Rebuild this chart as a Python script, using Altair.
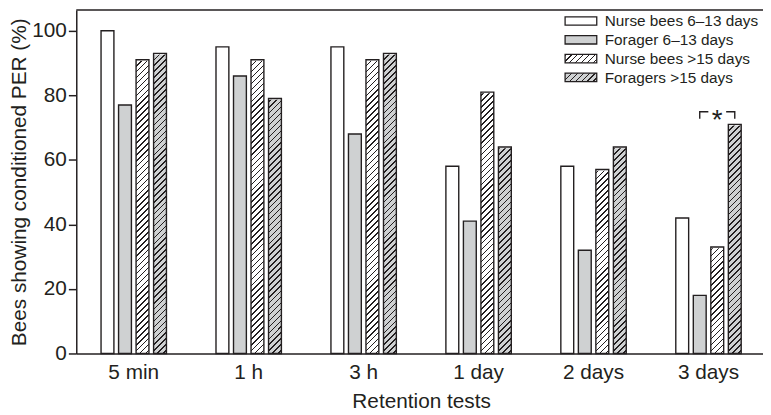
import altair as alt
import pandas as pd

# ---------------- data ----------------
tests = ["5 min", "1 h", "3 h", "1 day", "2 days", "3 days"]
series = ["Nurse bees 6–13 days", "Forager 6–13 days", "Nurse bees >15 days", "Foragers >15 days"]
nurse_young = [100, 95, 95, 58, 58, 42]
forager_young = [77, 86, 68, 41, 32, 18]
nurse_old = [91, 91, 91, 81, 57, 33]
forager_old = [93, 79, 93, 64, 64, 71]
y_ticks = [0, 20, 40, 60, 80, 100]

# significance bracket (3 days: young vs old foragers)
sig_test = "3 days"
sig_from, sig_mid, sig_to = series[1], series[2], series[3]
sig_low, sig_high = 72.7, 74.9
sig_label = "*"

# ---------------- style ----------------
INK = "#231f20"
GRAY = "#cfd1d2"
WHITE = "#ffffff"
FONT = "Liberation Sans"
PLOT_W, PLOT_H = 694, 347
X_RANGE = 697
Y_MAX = 106.4
HATCH_TOP = 104
BAR_STEP, BAR_W = 17.7, 13.0
PI = 1 - BAR_W / BAR_STEP
GROUP_SPAN = BAR_STEP * (len(series) - PI)
BAND = X_RANGE / len(tests)
XO_RANGE = [round((BAND - GROUP_SPAN) / 2, 3), round((BAND + GROUP_SPAN) / 2, 3)]
HATCH_H = HATCH_TOP / Y_MAX * PLOT_H
fills = [WHITE, GRAY, WHITE, GRAY]
hatched = [False, False, True, True]

# legend geometry (pixels, relative to plot area)
SW_X, SW_W, SW_H = 494, 32, 8.5
LAB_X = 534
ROW_Y0, ROW_STEP = 11, 19


def hatch_dict(bg, w, h, period=6.0, thick=1.6):
    L = w + h
    s = L / (w * w + h * h)
    stops = []
    pos = 0.0
    while pos < L:
        a = round(pos / L, 5)
        b = round(min((pos + thick) / L, 1), 5)
        c = round(min((pos + period) / L, 1), 5)
        stops += [{"offset": a, "color": INK}, {"offset": b, "color": INK},
                  {"offset": b, "color": bg}, {"offset": c, "color": bg}]
        pos += period
    return {"x1": 0, "y1": 0, "x2": round(w * s, 5), "y2": round(h * s, 5), "stops": stops}


def hatch_grad(bg, w, h):
    d = hatch_dict(bg, w, h)
    return alt.LinearGradient(gradient="linear", x1=d["x1"], y1=d["y1"], x2=d["x2"], y2=d["y2"],
                              stops=[alt.GradientStop(offset=s["offset"], color=s["color"]) for s in d["stops"]])


rows = []
for i, t in enumerate(tests):
    for s, vals in zip(series, [nurse_young, forager_young, nurse_old, forager_old]):
        rows.append({"test": t, "series": s, "value": vals[i]})
df = pd.DataFrame(rows)

bracket = pd.DataFrame({
    "test": [sig_test] * 4,
    "series": [sig_from, sig_from, sig_to, sig_to],
    "value": [sig_low, sig_high, sig_high, sig_low],
    "ord": [0, 1, 2, 3],
})
star = pd.DataFrame({"test": [sig_test], "series": [sig_mid], "value": [sig_high], "label": [sig_label]})

x_scale = alt.Scale(domain=tests, range=[0, X_RANGE], paddingInner=0, paddingOuter=0)
xo_scale = alt.Scale(domain=series, range=XO_RANGE, paddingInner=PI, paddingOuter=0)
y_scale = alt.Scale(domain=[0, Y_MAX], nice=False, zero=True)
YTITLE = "Bees showing conditioned PER (%)"
x_axis = alt.Axis(title="Retention tests", labelAngle=0, ticks=False, tickSize=0, labelPadding=8,
                  titlePadding=9, grid=False)
y_axis = alt.Axis(title=YTITLE, values=y_ticks, tickSize=8, labelPadding=2, titlePadding=2, grid=False)


def X():
    return alt.X("test:N", sort=tests, scale=x_scale, axis=x_axis)


def XO():
    return alt.XOffset("series:N", sort=series, scale=xo_scale)


def Y(field):
    return alt.Y(field, scale=y_scale, axis=y_axis)


base_fill = alt.Chart(df).mark_bar().encode(
    x=X(), xOffset=XO(), y=Y("value:Q"),
    fill=alt.Fill("series:N", sort=series,
                  scale=alt.Scale(domain=series, range=fills), legend=None),
)

hatch_layers = []
for s, bg, hz in zip(series, fills, hatched):
    if not hz:
        continue
    hatch_layers.append(
        alt.Chart(df).transform_filter(alt.datum.series == s)
        .transform_calculate(top=str(HATCH_TOP), zero="0")
        .mark_bar(fill=hatch_grad(bg, BAR_W, HATCH_H))
        .encode(x=X(), xOffset=XO(), y=Y("top:Q"), y2="zero:Q")
    )

covers = (
    alt.Chart(df).transform_filter(
        alt.FieldOneOfPredicate(field="series", oneOf=[s for s, hz in zip(series, hatched) if hz]))
    .transform_calculate(top=str(HATCH_TOP + 1))
    .mark_bar(fill=WHITE, stroke=WHITE, strokeWidth=2.5)
    .encode(x=X(), xOffset=XO(), y=Y("value:Q"), y2="top:Q")
)

outlines = alt.Chart(df).mark_bar(fillOpacity=0, stroke=INK, strokeWidth=1.4).encode(
    x=X(), xOffset=XO(), y=Y("value:Q"))

top_rule = (
    alt.Chart(pd.DataFrame({"top": [Y_MAX]}))
    .mark_rule(color=INK, strokeWidth=1.5)
    .encode(y=Y("top:Q"))
)

bracket_line = alt.Chart(bracket).mark_line(color=INK, strokeWidth=1.4).encode(
    x=X(), xOffset=XO(), y=Y("value:Q"), order="ord:Q")

patch = alt.Chart(star).transform_calculate(lo=f"{sig_high - 1.5}", hi=f"{sig_high + 1.5}").mark_bar(
    fill=WHITE, width=18).encode(x=X(), xOffset=XO(), y=Y("lo:Q"), y2="hi:Q")

star_text = alt.Chart(star).mark_text(font=FONT, fontSize=28, color=INK, baseline="alphabetic",
                                      dy=17).encode(
    x=X(), xOffset=XO(), y=Y("value:Q"), text="label:N")

# legend: swatches + labels
legend_layers = []
for i, (s, bg, hz) in enumerate(zip(series, fills, hatched)):
    cy = ROW_Y0 + i * ROW_STEP
    fill = hatch_grad(bg, SW_W, SW_H) if hz else bg
    src = alt.Chart(pd.DataFrame({"series": [s]}))
    legend_layers.append(
        src.mark_rect(fill=fill, stroke=INK, strokeWidth=1.3)
        .encode(x=alt.value(SW_X), x2=alt.value(SW_X + SW_W),
                y=alt.value(cy - SW_H / 2), y2=alt.value(cy + SW_H / 2))
    )
    legend_layers.append(
        src.mark_text(font=FONT, fontSize=15.5, color=INK, align="left", baseline="middle")
        .encode(x=alt.value(LAB_X), y=alt.value(cy + 0.5), text="series:N")
    )

chart = (
    alt.layer(base_fill, *hatch_layers, covers, outlines, top_rule, bracket_line, patch, star_text,
              *legend_layers)
    .properties(width=PLOT_W, height=PLOT_H,
                autosize=alt.AutoSizeParams(type="none"),
                padding={"left": 69, "top": 0, "right": 0, "bottom": 56})
    .configure_view(stroke=None)
    .configure_axis(labelFont=FONT, titleFont=FONT, labelFontSize=21, titleFontSize=21,
                    labelColor=INK, titleColor=INK, titleFontWeight="normal",
                    domainColor=INK, domainWidth=1.5, tickColor=INK, tickWidth=1.5)
)

chart.save("out.html", embed_options={"renderer": "svg", "actions": False})
